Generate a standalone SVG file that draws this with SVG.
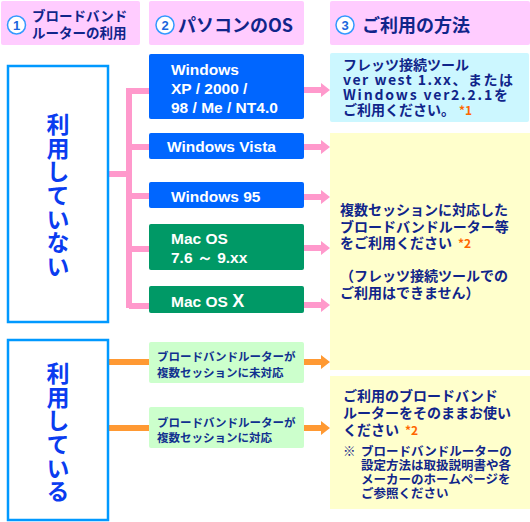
<svg xmlns="http://www.w3.org/2000/svg" width="530" height="522" viewBox="0 0 530 522">
<style>
.hdr{fill:#ffccff}
.ht{font-family:"Noto Sans CJK JP",sans-serif;font-weight:bold;fill:#10258a}
.circ{fill:#fff;stroke:#3399ff;stroke-width:1.5}
.cn{font-family:"Liberation Sans",sans-serif;font-weight:bold;font-size:13px;fill:#1a66dd;text-anchor:middle}
.lbox{fill:#fff;stroke:#0099ff;stroke-width:2.5}
.lt{font-family:"Noto Sans CJK JP",sans-serif;font-weight:bold;font-size:23px;fill:#0a3cf0;writing-mode:vertical-rl;letter-spacing:0.6px}
.blue{fill:#0066ff}
.green{fill:#009966}
.ot{font-family:"Liberation Sans",sans-serif;font-weight:bold;font-size:15.5px;fill:#fff}
.cyan{fill:#ccf7ff}
.yel{fill:#ffffcc}
.lg{fill:#ccffcc}
.jt{font-family:"Noto Sans CJK JP",sans-serif;font-weight:bold;font-size:14px;fill:#10258a}
.st{font-family:"Noto Sans CJK JP",sans-serif;font-weight:bold;font-size:12.5px;fill:#10258a}
.gt{font-family:"Noto Sans CJK JP",sans-serif;font-weight:bold;font-size:11.5px;fill:#10308f}
.ast{font-family:"Noto Sans CJK JP",sans-serif;font-weight:bold;font-size:12px;fill:#ff6600}
.pk{stroke:#ff99cc;stroke-width:6;fill:none}
.pkh{fill:#ff99cc}
.or{stroke:#ff9933;stroke-width:6;fill:none}
.orh{fill:#ff9933}
</style>

<g id="header1">
<rect class="hdr" x="1" y="1" width="139" height="44" rx="2"/>
<circle class="circ" cx="16.5" cy="25" r="9"/>
<text class="cn" x="16.5" y="29.5">1</text>
<text class="ht" font-size="13.5" x="32" y="21">ブロードバンド</text>
<text class="ht" font-size="13.5" x="32" y="38">ルーターの利用</text>
</g>
<g id="header2">
<rect class="hdr" x="149" y="1" width="155" height="44" rx="2"/>
<circle class="circ" cx="165" cy="25" r="9"/>
<text class="cn" x="165" y="29.5">2</text>
<text class="ht" font-size="18" x="178" y="32">パソコンのOS</text>
</g>
<g id="header3">
<rect class="hdr" x="330" y="1" width="200" height="44" rx="2"/>
<circle class="circ" cx="345" cy="25" r="9"/>
<text class="cn" x="345" y="29.5">3</text>
<text class="ht" font-size="18" x="362" y="32">ご利用の方法</text>
</g>

<g id="connectors">
<path class="pk" d="M108 174H129M129 88V308M129 91H149M129 147H149M129 196H149M129 249H149M129 306H149"/>
<path class="pk" d="M304 90H323M304 147H323M304 197H323M304 248H323M304 305H323"/>
<path class="pkh" d="M321 83L330 90L321 97ZM321 140L330 147L321 154ZM321 190L330 197L321 204ZM321 241L330 248L321 255ZM321 298L330 305L321 312Z"/>
<path class="or" d="M108 362H149M108 428H149M304 362H323M304 428H323"/>
<path class="orh" d="M321 355L330 362L321 369ZM321 421L330 428L321 435Z"/>
</g>

<g id="not-using">
<rect class="lbox" x="8" y="66" width="100" height="256"/>
<text class="lt" x="58" y="113">利用していない</text>
</g>
<g id="using">
<rect class="lbox" x="8" y="340" width="100" height="180"/>
<text class="lt" x="58" y="362">利用している</text>
</g>

<g id="os-xp">
<rect class="blue" x="149" y="54" width="155" height="65" rx="2"/>
<text class="ot" x="171" y="75">Windows</text>
<text class="ot" x="171" y="94">XP / 2000 /</text>
<text class="ot" x="171" y="113">98 / Me / NT4.0</text>
</g>
<g id="os-vista">
<rect class="blue" x="149" y="133" width="155" height="26" rx="2"/>
<text class="ot" x="167" y="152">Windows Vista</text>
</g>
<g id="os-95">
<rect class="blue" x="149" y="182" width="155" height="26" rx="2"/>
<text class="ot" x="171" y="202">Windows 95</text>
</g>
<g id="os-mac9">
<rect class="green" x="149" y="224" width="155" height="46" rx="2"/>
<text class="ot" x="171" y="244">Mac OS</text>
<text class="ot" x="171" y="263">7.6 ～ 9.xx</text>
</g>
<g id="os-macx">
<rect class="green" x="149" y="286" width="155" height="27" rx="2"/>
<text class="ot" x="171" y="307">Mac OS <tspan font-size="18">X</tspan></text>
</g>

<g id="router-unsupported">
<rect class="lg" x="149" y="342" width="155" height="41" rx="2"/>
<text class="gt" x="157" y="361">ブロードバンドルーターが</text>
<text class="gt" x="157" y="377">複数セッションに未対応</text>
</g>
<g id="router-supported">
<rect class="lg" x="149" y="407" width="155" height="41" rx="2"/>
<text class="gt" x="157" y="427">ブロードバンドルーターが</text>
<text class="gt" x="157" y="442">複数セッションに対応</text>
</g>

<g id="method-flets">
<rect class="cyan" x="330" y="53" width="199" height="69" rx="2"/>
<text class="jt" x="343" y="70">フレッツ接続ツール</text>
<text class="jt" x="343" y="85" textLength="170" lengthAdjust="spacing">ver west 1.xx、または</text>
<text class="jt" x="343" y="100" textLength="165" lengthAdjust="spacing">Windows ver2.2.1を</text>
<text class="jt" x="343" y="115">ご利用ください。<tspan class="ast" dx="4">*1</tspan></text>
</g>
<g id="method-multisession">
<rect class="yel" x="330" y="133" width="200" height="237"/>
<text class="jt" x="340" y="215">複数セッションに対応した</text>
<text class="jt" x="340" y="231.5">ブロードバンドルーター等</text>
<text class="jt" x="340" y="248">をご利用ください<tspan class="ast" dx="6">*2</tspan></text>
<text class="jt" x="340" y="281">（フレッツ接続ツールでの</text>
<text class="jt" x="340" y="297.5">ご利用はできません）</text>
</g>
<g id="method-router">
<rect class="yel" x="330" y="376" width="200" height="133"/>
<text class="jt" x="343" y="401">ご利用のブロードバンド</text>
<text class="jt" x="343" y="418">ルーターをそのままお使い</text>
<text class="jt" x="343" y="435">ください<tspan class="ast" dx="6">*2</tspan></text>
<text class="st" x="343" y="456">※</text>
<text class="st" x="361" y="456">ブロードバンドルーターの</text>
<text class="st" x="361" y="470">設定方法は取扱説明書や各</text>
<text class="st" x="361" y="484">メーカーのホームページを</text>
<text class="st" x="361" y="498">ご参照ください</text>
</g>
</svg>
